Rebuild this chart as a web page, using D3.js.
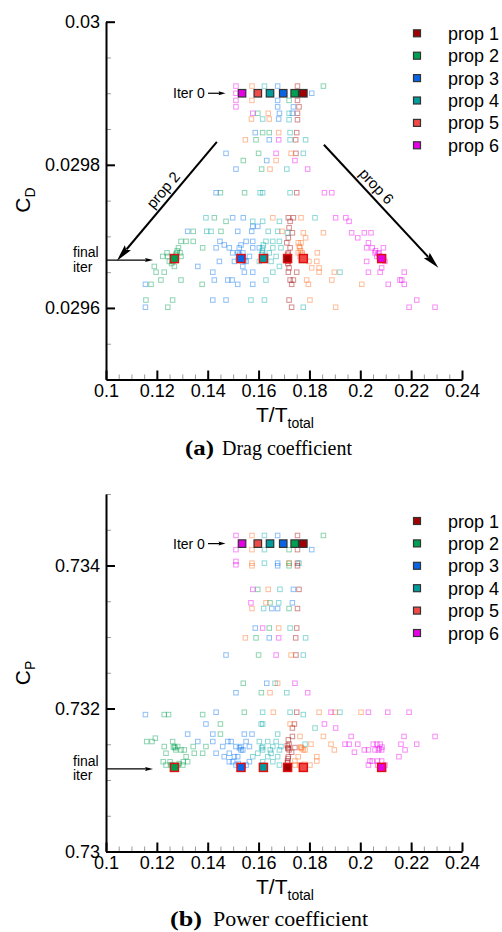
<!DOCTYPE html>
<html>
<head>
<meta charset="utf-8">
<script src="https://cdnjs.cloudflare.com/ajax/libs/d3/7.8.5/d3.min.js"></script>
<style>
  body { margin: 0; background: #fff; }
  svg { display: block; font-family: "Liberation Sans", Arial, sans-serif; }
  .axis .domain { stroke: #000; stroke-width: 2; }
  .axis .tick line { stroke: #000; stroke-width: 2; }
  .axis .tick text { font-size: 18px; fill: #000; font-family: "Liberation Sans", Arial, sans-serif; }
  .minor .tick line { stroke: #999; stroke-width: 1; }
  .minor .domain { display: none; }
</style>
</head>
<body>
<div id="chart"></div>
<script>
// Series setup
var propNames = ["prop 1", "prop 2", "prop 3", "prop 4", "prop 5", "prop 6"];
var propColors = ["#a00000", "#00a050", "#0a64e6", "#009c9c", "#f04a46", "#e600e6"];
var histColors = ["#a00000", "#00a050", "#0070f0", "#00a8a8", "#ff6a1a", "#f000f0"];

// T/T_total of each prop at iteration 0 and at the final iteration
var iter0X = [0.1776, 0.1742, 0.1697, 0.1645, 0.1597, 0.1535];
var finalX = [0.1714, 0.1269, 0.1531, 0.1619, 0.1776, 0.2084];

var cdIter0 = 0.0299;
var cdFinal = 0.029669;
var cpIter0 = 0.734306;
var cpFinal = 0.731176;

// ticks
var xTicks = [0.1, 0.12, 0.14, 0.16, 0.18, 0.2, 0.22, 0.24];
var cdTicks = [0.03, 0.0298, 0.0296];
var cpTicks = [0.734, 0.732, 0.73];

// optimisation history, [T/T_total, C_D]
var cdP1 = [[0.1753,0.029910],[0.1753,0.029890],[0.1759,0.029881],[0.1753,0.029872],[0.1753,0.029863],[0.1750,0.029845],[0.1746,0.029835],[0.1747,0.029816],[0.1750,0.029761],[0.1717,0.029726],[0.1737,0.029726],[0.1724,0.029721],[0.1720,0.029712],[0.1733,0.029705],[0.1717,0.029698],[0.1711,0.029691],[0.1724,0.029684],[0.1717,0.029677],[0.1717,0.029665],[0.1720,0.029656],[0.1717,0.029650],[0.1750,0.029650],[0.1724,0.029639],[0.1737,0.029639],[0.1730,0.029633],[0.1720,0.029611],[0.1730,0.029601],[0.1714,0.029675],[0.1716,0.029672],[0.1713,0.029666],[0.1715,0.029662]];
var cdP2 = [[0.1855,0.029910],[0.1720,0.029890],[0.1597,0.029872],[0.1616,0.029845],[0.1642,0.029845],[0.1590,0.029835],[0.1600,0.029816],[0.1540,0.029806],[0.1612,0.029794],[0.1450,0.029761],[0.1545,0.029761],[0.1426,0.029726],[0.1472,0.029721],[0.1343,0.029707],[0.1452,0.029707],[0.1295,0.029693],[0.1315,0.029693],[0.1343,0.029693],[0.1380,0.029684],[0.1240,0.029677],[0.1279,0.029677],[0.1291,0.029677],[0.1223,0.029672],[0.1243,0.029672],[0.1273,0.029672],[0.1295,0.029672],[0.1249,0.029665],[0.1262,0.029665],[0.1190,0.029658],[0.1269,0.029658],[0.1197,0.029650],[0.1229,0.029650],[0.1216,0.029639],[0.1295,0.029639],[0.1177,0.029633],[0.1378,0.029633],[0.1157,0.029611],[0.1262,0.029611],[0.1243,0.029601],[0.1275,0.029675],[0.1280,0.029680],[0.1285,0.029684],[0.1265,0.029666],[0.1258,0.029662]];
var cdP3 = [[0.1675,0.029910],[0.1809,0.029900],[0.1675,0.029890],[0.1675,0.029881],[0.1737,0.029881],[0.1682,0.029872],[0.1733,0.029872],[0.1679,0.029864],[0.1587,0.029845],[0.1642,0.029835],[0.1472,0.029816],[0.1632,0.029806],[0.1511,0.029794],[0.1433,0.029761],[0.1498,0.029726],[0.1540,0.029726],[0.1577,0.029714],[0.1597,0.029714],[0.1321,0.029707],[0.1518,0.029707],[0.1573,0.029707],[0.1448,0.029693],[0.1551,0.029693],[0.1577,0.029693],[0.1465,0.029688],[0.1531,0.029688],[0.1433,0.029684],[0.1485,0.029684],[0.1524,0.029684],[0.1577,0.029684],[0.1603,0.029684],[0.1498,0.029677],[0.1518,0.029677],[0.1538,0.029677],[0.1522,0.029672],[0.1564,0.029672],[0.1446,0.029665],[0.1505,0.029665],[0.1551,0.029665],[0.1361,0.029658],[0.1538,0.029658],[0.1420,0.029650],[0.1544,0.029650],[0.1577,0.029650],[0.1426,0.029639],[0.1479,0.029639],[0.1496,0.029639],[0.1155,0.029633],[0.1518,0.029633],[0.1577,0.029633],[0.1420,0.029611],[0.1472,0.029611],[0.1155,0.029601],[0.1525,0.029675],[0.1540,0.029670],[0.1545,0.029666],[0.1520,0.029668]];
var cdP4 = [[0.1623,0.029910],[0.1720,0.029872],[0.1616,0.029864],[0.1720,0.029863],[0.1724,0.029845],[0.1724,0.029835],[0.1785,0.029835],[0.1776,0.029816],[0.1711,0.029794],[0.1606,0.029761],[0.1616,0.029761],[0.1724,0.029761],[0.1393,0.029726],[0.1822,0.029726],[0.1577,0.029721],[0.1616,0.029721],[0.1682,0.029721],[0.1396,0.029707],[0.1413,0.029707],[0.1638,0.029707],[0.1675,0.029707],[0.1714,0.029705],[0.1629,0.029693],[0.1656,0.029693],[0.1682,0.029693],[0.1619,0.029688],[0.1616,0.029684],[0.1656,0.029684],[0.1688,0.029684],[0.1616,0.029677],[0.1642,0.029677],[0.1629,0.029672],[0.1669,0.029672],[0.1603,0.029665],[0.1649,0.029665],[0.1682,0.029658],[0.1656,0.029650],[0.1920,0.029650],[0.1629,0.029639],[0.1570,0.029611],[0.1623,0.029611],[0.1776,0.029601],[0.1612,0.029675],[0.1625,0.029671],[0.1615,0.029680]];
var cdP5 = [[0.1574,0.029910],[0.1574,0.029890],[0.1638,0.029872],[0.1572,0.029864],[0.1642,0.029864],[0.1679,0.029845],[0.1548,0.029835],[0.1728,0.029816],[0.1669,0.029806],[0.1645,0.029794],[0.1656,0.029726],[0.1767,0.029726],[0.1692,0.029707],[0.1776,0.029705],[0.1855,0.029705],[0.1785,0.029698],[0.1756,0.029691],[0.1767,0.029691],[0.1763,0.029684],[0.1756,0.029677],[0.1772,0.029677],[0.1831,0.029677],[0.1763,0.029672],[0.1798,0.029665],[0.1829,0.029665],[0.1809,0.029656],[0.1838,0.029656],[0.1838,0.029650],[0.1898,0.029650],[0.1789,0.029639],[0.1888,0.029639],[0.1796,0.029633],[0.2006,0.029633],[0.1802,0.029611],[0.1903,0.029601],[0.1770,0.029675],[0.1765,0.029680],[0.1780,0.029672],[0.1760,0.029686]];
var cdP6 = [[0.1511,0.029910],[0.1511,0.029900],[0.1511,0.029890],[0.1511,0.029881],[0.1577,0.029872],[0.1679,0.029835],[0.1669,0.029816],[0.1743,0.029806],[0.1793,0.029794],[0.1859,0.029761],[0.1888,0.029761],[0.1903,0.029726],[0.1943,0.029726],[0.1956,0.029721],[0.1966,0.029705],[0.2016,0.029705],[0.2042,0.029705],[0.1990,0.029698],[0.2032,0.029691],[0.2025,0.029684],[0.2047,0.029684],[0.2091,0.029684],[0.2058,0.029677],[0.2074,0.029677],[0.2065,0.029672],[0.2074,0.029672],[0.2025,0.029665],[0.2097,0.029665],[0.2084,0.029656],[0.2032,0.029650],[0.2078,0.029650],[0.2173,0.029650],[0.2156,0.029639],[0.2163,0.029639],[0.2110,0.029633],[0.2173,0.029633],[0.2222,0.029611],[0.2192,0.029601],[0.2294,0.029601],[0.2070,0.029676],[0.2078,0.029672],[0.2088,0.029667],[0.2060,0.029680]];

// optimisation history, [T/T_total, C_P]
var cpP1 = [[0.1753,0.734420],[0.1753,0.734222],[0.1753,0.734033],[0.1753,0.733996],[0.1759,0.733666],[0.1753,0.733398],[0.1750,0.733125],[0.1746,0.732988],[0.1747,0.732748],[0.1750,0.731948],[0.1741,0.731783],[0.1733,0.731727],[0.1733,0.731609],[0.1717,0.731562],[0.1720,0.731501],[0.1717,0.731454],[0.1743,0.731454],[0.1720,0.731421],[0.1730,0.731388],[0.1717,0.731326],[0.1714,0.731265],[0.1714,0.731240],[0.1716,0.731300],[0.1713,0.731480],[0.1715,0.731440]];
var cpP2 = [[0.1855,0.734420],[0.1720,0.734222],[0.1720,0.734033],[0.1720,0.733996],[0.1597,0.733666],[0.1645,0.733478],[0.1720,0.733398],[0.1642,0.733125],[0.1590,0.732988],[0.1600,0.732748],[0.1540,0.732353],[0.1611,0.732221],[0.1544,0.731948],[0.1229,0.731915],[0.1246,0.731915],[0.1380,0.731915],[0.1450,0.731783],[0.1450,0.731642],[0.1194,0.731585],[0.1160,0.731538],[0.1181,0.731538],[0.1262,0.731538],[0.1229,0.731468],[0.1269,0.731468],[0.1282,0.731468],[0.1343,0.731468],[0.1393,0.731468],[0.1275,0.731421],[0.1295,0.731421],[0.1308,0.731421],[0.1236,0.731374],[0.1347,0.731374],[0.1380,0.731374],[0.1315,0.731326],[0.1225,0.731256],[0.1252,0.731256],[0.1304,0.731256],[0.1321,0.731256],[0.1236,0.731209],[0.1256,0.731209],[0.1282,0.731209],[0.1302,0.731209],[0.1265,0.731460],[0.1272,0.731450],[0.1260,0.731215],[0.1278,0.731200],[0.1288,0.731230]];
var cpP3 = [[0.1675,0.734420],[0.1809,0.734222],[0.1675,0.734033],[0.1675,0.733996],[0.1737,0.733666],[0.1733,0.733478],[0.1652,0.733398],[0.1675,0.733398],[0.1587,0.733125],[0.1642,0.732988],[0.1472,0.732748],[0.1632,0.732353],[0.1511,0.732221],[0.1433,0.731948],[0.1155,0.731915],[0.1393,0.731783],[0.1321,0.731642],[0.1420,0.731642],[0.1544,0.731642],[0.1574,0.731642],[0.1361,0.731538],[0.1420,0.731538],[0.1479,0.731538],[0.1492,0.731538],[0.1551,0.731538],[0.1459,0.731468],[0.1511,0.731468],[0.1531,0.731468],[0.1564,0.731468],[0.1531,0.731421],[0.1538,0.731421],[0.1433,0.731374],[0.1485,0.731374],[0.1465,0.731326],[0.1505,0.731326],[0.1518,0.731326],[0.1485,0.731256],[0.1498,0.731256],[0.1564,0.731256],[0.1511,0.731209],[0.1551,0.731209],[0.1525,0.731450],[0.1528,0.731200],[0.1540,0.731195],[0.1520,0.731230]];
var cpP4 = [[0.1623,0.734420],[0.1623,0.734222],[0.1623,0.734033],[0.1759,0.734033],[0.1684,0.733666],[0.1679,0.733478],[0.1620,0.733398],[0.1724,0.733125],[0.1785,0.732988],[0.1776,0.732748],[0.1665,0.732353],[0.1711,0.732221],[0.1616,0.731948],[0.1724,0.731948],[0.1920,0.731948],[0.1776,0.731915],[0.1610,0.731783],[0.1616,0.731783],[0.1822,0.731727],[0.1675,0.731642],[0.1603,0.731538],[0.1636,0.731538],[0.1669,0.731538],[0.1616,0.731468],[0.1656,0.731468],[0.1688,0.731468],[0.1783,0.731501],[0.1616,0.731421],[0.1646,0.731421],[0.1682,0.731421],[0.1597,0.731374],[0.1649,0.731374],[0.1577,0.731326],[0.1636,0.731326],[0.1675,0.731326],[0.1616,0.731256],[0.1656,0.731256],[0.1616,0.731209],[0.1682,0.731209],[0.1612,0.731450],[0.1625,0.731200]];
var cpP5 = [[0.1574,0.734420],[0.1574,0.734222],[0.1574,0.734033],[0.1720,0.734033],[0.1574,0.733996],[0.1638,0.733666],[0.1629,0.733478],[0.1574,0.733398],[0.1679,0.733125],[0.1548,0.732988],[0.1728,0.732748],[0.1675,0.732353],[0.1645,0.732221],[0.1658,0.731948],[0.1838,0.731948],[0.1901,0.731948],[0.2003,0.731948],[0.1724,0.731783],[0.1763,0.731609],[0.1855,0.731609],[0.1806,0.731501],[0.1885,0.731501],[0.1767,0.731454],[0.1776,0.731421],[0.1783,0.731421],[0.1898,0.731421],[0.1756,0.731326],[0.1829,0.731326],[0.1743,0.731265],[0.1829,0.731265],[0.1743,0.731209],[0.1763,0.731209],[0.1802,0.731209],[0.1770,0.731440],[0.1765,0.731460],[0.1772,0.731195],[0.1780,0.731220]];
var cpP6 = [[0.1511,0.734420],[0.1511,0.734222],[0.1511,0.734057],[0.1511,0.734010],[0.1577,0.733666],[0.1570,0.733478],[0.1616,0.733125],[0.1679,0.732988],[0.1669,0.732748],[0.1743,0.732353],[0.1793,0.732221],[0.1885,0.731948],[0.2032,0.731948],[0.2108,0.731948],[0.2192,0.731948],[0.1859,0.731783],[0.1903,0.731727],[0.1964,0.731609],[0.2172,0.731609],[0.2294,0.731609],[0.1940,0.731501],[0.1956,0.731501],[0.1990,0.731501],[0.2051,0.731501],[0.2065,0.731501],[0.2078,0.731501],[0.2160,0.731501],[0.2222,0.731501],[0.2016,0.731421],[0.2032,0.731421],[0.2058,0.731421],[0.2071,0.731421],[0.2084,0.731421],[0.2176,0.731421],[0.1977,0.731388],[0.2152,0.731326],[0.2038,0.731265],[0.2047,0.731265],[0.2068,0.731265],[0.2084,0.731265],[0.2032,0.731209],[0.2068,0.731209],[0.2097,0.731209],[0.2075,0.731440],[0.2085,0.731460],[0.2080,0.731200]];

var svg = d3.select("#chart").append("svg").attr("width", 502).attr("height", 932);

// line + filled head, head drawn as its own path
var drawArrow = function(g, x0, y0, x1, y1, len, wid, sw) {
  var dx = x1 - x0, dy = y1 - y0;
  var L = Math.sqrt(dx * dx + dy * dy);
  var ux = dx / L, uy = dy / L;
  var bx = x1 - ux * len, by = y1 - uy * len;
  g.append("line")
    .attr("x1", x0).attr("y1", y0)
    .attr("x2", bx + ux * 2).attr("y2", by + uy * 2)
    .attr("stroke", "#000").attr("stroke-width", sw);
  var px = -uy * wid / 2, py = ux * wid / 2;
  g.append("path")
    .attr("d", "M" + x1 + "," + y1 +
      "L" + (bx + px) + "," + (by + py) +
      "L" + (bx + ux * len * 0.15) + "," + (by + uy * len * 0.15) +
      "L" + (bx - px) + "," + (by - py) + "Z")
    .attr("fill", "#000");
};

// text along an arrow, a bit off the line
var arrowLabel = function(g, label, x0, y0, x1, y1, t, off) {
  var ang = Math.atan2(y1 - y0, x1 - x0) * 180 / Math.PI;
  var a = ang * Math.PI / 180;
  var nx = Math.sin(a), ny = -Math.cos(a);
  var cx = x0 + (x1 - x0) * t + nx * off;
  var cy = y0 + (y1 - y0) * t + ny * off;
  g.append("text")
    .attr("transform", "translate(" + cx + "," + cy + ") rotate(" + ang + ")")
    .attr("text-anchor", "middle")
    .attr("font-size", 15)
    .text(label);
};

var drawPanel = function(cfg) {
  var g = svg.append("g");
  var x = d3.scaleLinear().domain([0.1, 0.24]).range([106, 462]);
  var y = d3.scaleLinear().domain(cfg.yDomain).range(cfg.yRange);
  var yBottom = cfg.yRange[0];

  var xMinor = d3.range(0, 29).map(function(i) { return 0.1 + i * 0.005; });
  var yMinor = d3.range(0, 11).map(function(i) { return cfg.yDomain[0] + i * cfg.yStep; });

  // minor ticks
  g.append("g")
    .attr("class", "axis minor")
    .attr("transform", "translate(0," + yBottom + ")")
    .call(d3.axisBottom(x).tickValues(xMinor).tickSize(-5).tickFormat(""));
  g.append("g")
    .attr("class", "axis minor")
    .attr("transform", "translate(106,0)")
    .call(d3.axisLeft(y).tickValues(yMinor).tickSize(-5).tickFormat(""));

  // major ticks
  g.append("g")
    .attr("class", "axis")
    .attr("transform", "translate(0," + yBottom + ")")
    .call(d3.axisBottom(x).tickValues(xTicks).tickSize(-9).tickSizeOuter(0).tickPadding(5)
      .tickFormat(function(d) { return String(d); }));
  g.append("g")
    .attr("class", "axis")
    .attr("transform", "translate(106,0)")
    .call(d3.axisLeft(y).tickValues(cfg.yTicks).tickSize(-9).tickSizeOuter(0).tickPadding(6)
      .tickFormat(function(d) { return String(d); }));

  // history points
  cfg.hist.forEach(function(pts, i) {
    g.append("g")
      .selectAll("rect")
      .data(pts)
      .enter()
      .append("rect")
      .attr("x", function(d) { return x(d[0]) - 2.25; })
      .attr("y", function(d) { return y(d[1]) - 2.25; })
      .attr("width", 4.5)
      .attr("height", 4.5)
      .attr("fill", "none")
      .attr("stroke", histColors[i])
      .attr("stroke-opacity", 0.45)
      .attr("stroke-width", 1);
  });

  // iteration 0
  g.append("g")
    .selectAll("rect")
    .data(iter0X)
    .enter()
    .append("rect")
    .attr("x", function(d) { return x(d) - 3.75; })
    .attr("y", y(cfg.iter0) - 3.75)
    .attr("width", 7.5)
    .attr("height", 7.5)
    .attr("fill", function(d, i) { return propColors[i]; })
    .attr("stroke", "#333")
    .attr("stroke-width", 1.2);

  // final iteration
  g.append("g")
    .selectAll("rect")
    .data(finalX)
    .enter()
    .append("rect")
    .attr("x", function(d) { return x(d) - 4; })
    .attr("y", y(cfg.final) - 4)
    .attr("width", 8)
    .attr("height", 8)
    .attr("fill", function(d, i) { return propColors[i]; })
    .attr("stroke", "#e01010")
    .attr("stroke-width", 1.5);

  // legend
  var leg = g.append("g").attr("transform", "translate(0," + cfg.legendTop + ")");
  propNames.forEach(function(name, i) {
    var ry = i * 22.4;
    leg.append("rect")
      .attr("x", 413.5).attr("y", ry - 3.5)
      .attr("width", 7).attr("height", 7)
      .attr("fill", propColors[i])
      .attr("stroke", "#333")
      .attr("stroke-width", 1.2);
    leg.append("text")
      .attr("x", 448).attr("y", ry + 6.5)
      .attr("font-size", 18)
      .text(name);
  });

  // Iter 0 note
  var yi = y(cfg.iter0);
  drawArrow(g, x(0.1401), yi, x(0.1470), yi, 7, 4, 1.2);
  g.append("text")
    .attr("x", x(0.1389)).attr("y", yi + 5)
    .attr("text-anchor", "end")
    .attr("font-size", 14)
    .text("Iter 0");

  // final iter note
  var yf = y(cfg.final) + 1.5;
  drawArrow(g, x(0.1), yf, x(0.1185), yf, 8, 4, 1.2);
  g.append("text").attr("x", 73).attr("y", yf - 3).attr("font-size", 14).text("final");
  g.append("text").attr("x", 73).attr("y", yf + 11.5).attr("font-size", 14).text("iter");

  // prop 2 / prop 6 arrows
  if (cfg.bigArrows) {
    var a0x = x(0.1436), a0y = y(0.029832), a1x = x(0.1043), a1y = y(0.029666);
    drawArrow(g, a0x, a0y, a1x, a1y, 17, 8, 2);
    arrowLabel(g, "prop 2", a1x, a1y, a0x, a0y, 0.54, 5);
    var b0x = x(0.1857), b0y = y(0.029828), b1x = x(0.2307), b1y = y(0.029656);
    drawArrow(g, b0x, b0y, b1x, b1y, 17, 8, 2);
    arrowLabel(g, "prop 6", b0x, b0y, b1x, b1y, 0.394, 5);
  }

  // y label
  g.append("text")
    .attr("transform", "translate(30," + cfg.yLabelY + ") rotate(-90)")
    .attr("text-anchor", "middle")
    .call(function(t) {
      t.append("tspan").attr("font-size", 21).text("C");
      t.append("tspan").attr("font-size", 14).attr("dy", 5).text(cfg.yLabelSub);
    });

  // x label
  g.append("text")
    .attr("x", 256).attr("y", yBottom + 42.5)
    .call(function(t) {
      t.append("tspan").attr("font-size", 21).text("T/T");
      t.append("tspan").attr("font-size", 14).attr("dy", 6).text("total");
    });

  // caption
  g.append("text")
    .attr("x", cfg.capX).attr("y", cfg.capY)
    .attr("font-family", "'Liberation Serif', 'Times New Roman', serif")
    .attr("font-weight", "bold")
    .attr("font-size", 20)
    .attr("textLength", cfg.capBoldW)
    .attr("lengthAdjust", "spacingAndGlyphs")
    .text(cfg.capTag);
  g.append("text")
    .attr("x", cfg.capTextX).attr("y", cfg.capY)
    .attr("font-family", "'Liberation Serif', 'Times New Roman', serif")
    .attr("font-size", 20)
    .attr("textLength", cfg.capTextW)
    .attr("lengthAdjust", "spacingAndGlyphs")
    .text(cfg.capText);
};

drawPanel({
  yDomain: [0.0295, 0.03],
  yRange: [379.5, 21.7],
  yStep: 0.00005,
  yTicks: cdTicks,
  hist: [cdP1, cdP2, cdP3, cdP4, cdP5, cdP6],
  iter0: cdIter0,
  final: cdFinal,
  legendTop: 33.3,
  bigArrows: true,
  yLabelY: 200,
  yLabelSub: "D",
  capX: 185, capTextX: 222, capY: 455, capBoldW: 29, capTextW: 130,
  capTag: "(a)", capText: "Drag coefficient"
});

drawPanel({
  yDomain: [0.73, 0.735],
  yRange: [851.5, 494],
  yStep: 0.0005,
  yTicks: cpTicks,
  hist: [cpP1, cpP2, cpP3, cpP4, cpP5, cpP6],
  iter0: cpIter0,
  final: cpFinal,
  legendTop: 521,
  bigArrows: false,
  yLabelY: 673,
  yLabelSub: "P",
  capX: 170, capTextX: 213, capY: 926, capBoldW: 32, capTextW: 155,
  capTag: "(b)", capText: "Power coefficient"
});
</script>
</body>
</html>
